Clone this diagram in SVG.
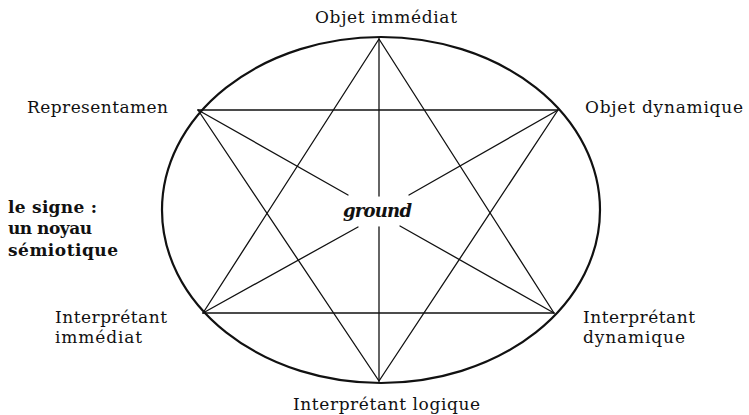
<svg xmlns="http://www.w3.org/2000/svg" width="749" height="415" viewBox="0 0 749 415">
<style>
.lbl{font-family:"DejaVu Serif","Liberation Serif",serif;font-size:17px;fill:#111}
.bold{font-family:"DejaVu Serif","Liberation Serif",serif;font-size:17px;font-weight:bold;fill:#111}
.grd{font-family:"DejaVu Serif","Liberation Serif",serif;font-size:18px;font-weight:bold;font-style:italic;fill:#111}
.ln{stroke:#111;stroke-width:1.3;fill:none;stroke-linecap:round}
.ell{stroke:#111;stroke-width:2.2;fill:none}
</style>
<rect width="749" height="415" fill="#fff"/>
<g id="ellipse"><ellipse class="ell" cx="381" cy="210" rx="219" ry="173"/></g>
<g id="connectors">
<line class="ln" x1="198" y1="110" x2="558" y2="110"/>
<line class="ln" x1="203" y1="313" x2="554" y2="313"/>
<line class="ln" x1="379" y1="39" x2="203" y2="313"/>
<line class="ln" x1="379" y1="39" x2="554" y2="313"/>
<line class="ln" x1="379" y1="381" x2="198" y2="110"/>
<line class="ln" x1="379" y1="381" x2="558" y2="110"/>
<line class="ln" x1="379" y1="39" x2="379" y2="196"/>
<line class="ln" x1="379" y1="227" x2="379" y2="381"/>
<line class="ln" x1="198" y1="110" x2="348" y2="195"/>
<line class="ln" x1="400" y1="226" x2="554" y2="313"/>
<line class="ln" x1="558" y1="110" x2="409" y2="195"/>
<line class="ln" x1="358" y1="227" x2="203" y2="313"/>
</g>
<g id="objet-immediat"><text class="lbl" x="315" y="22.5" textLength="142">Objet immédiat</text></g>
<g id="representamen"><text class="lbl" x="27" y="113" textLength="141">Representamen</text></g>
<g id="objet-dynamique"><text class="lbl" x="585" y="112.5" textLength="158">Objet dynamique</text></g>
<g id="signe">
<text class="bold" x="8" y="213" textLength="89">le signe :</text>
<text class="bold" x="8" y="234" textLength="84">un noyau</text>
<text class="bold" x="8" y="255.5" textLength="110">sémiotique</text>
</g>
<g id="ground"><text class="grd" x="343" y="217" textLength="69">ground</text></g>
<g id="interpretant-immediat">
<text class="lbl" x="55" y="323" textLength="112">Interprétant</text>
<text class="lbl" x="55" y="343" textLength="87">immédiat</text>
</g>
<g id="interpretant-dynamique">
<text class="lbl" x="583" y="323" textLength="112">Interprétant</text>
<text class="lbl" x="583" y="343" textLength="102">dynamique</text>
</g>
<g id="interpretant-logique"><text class="lbl" x="293" y="410" textLength="187">Interprétant logique</text></g>
</svg>
